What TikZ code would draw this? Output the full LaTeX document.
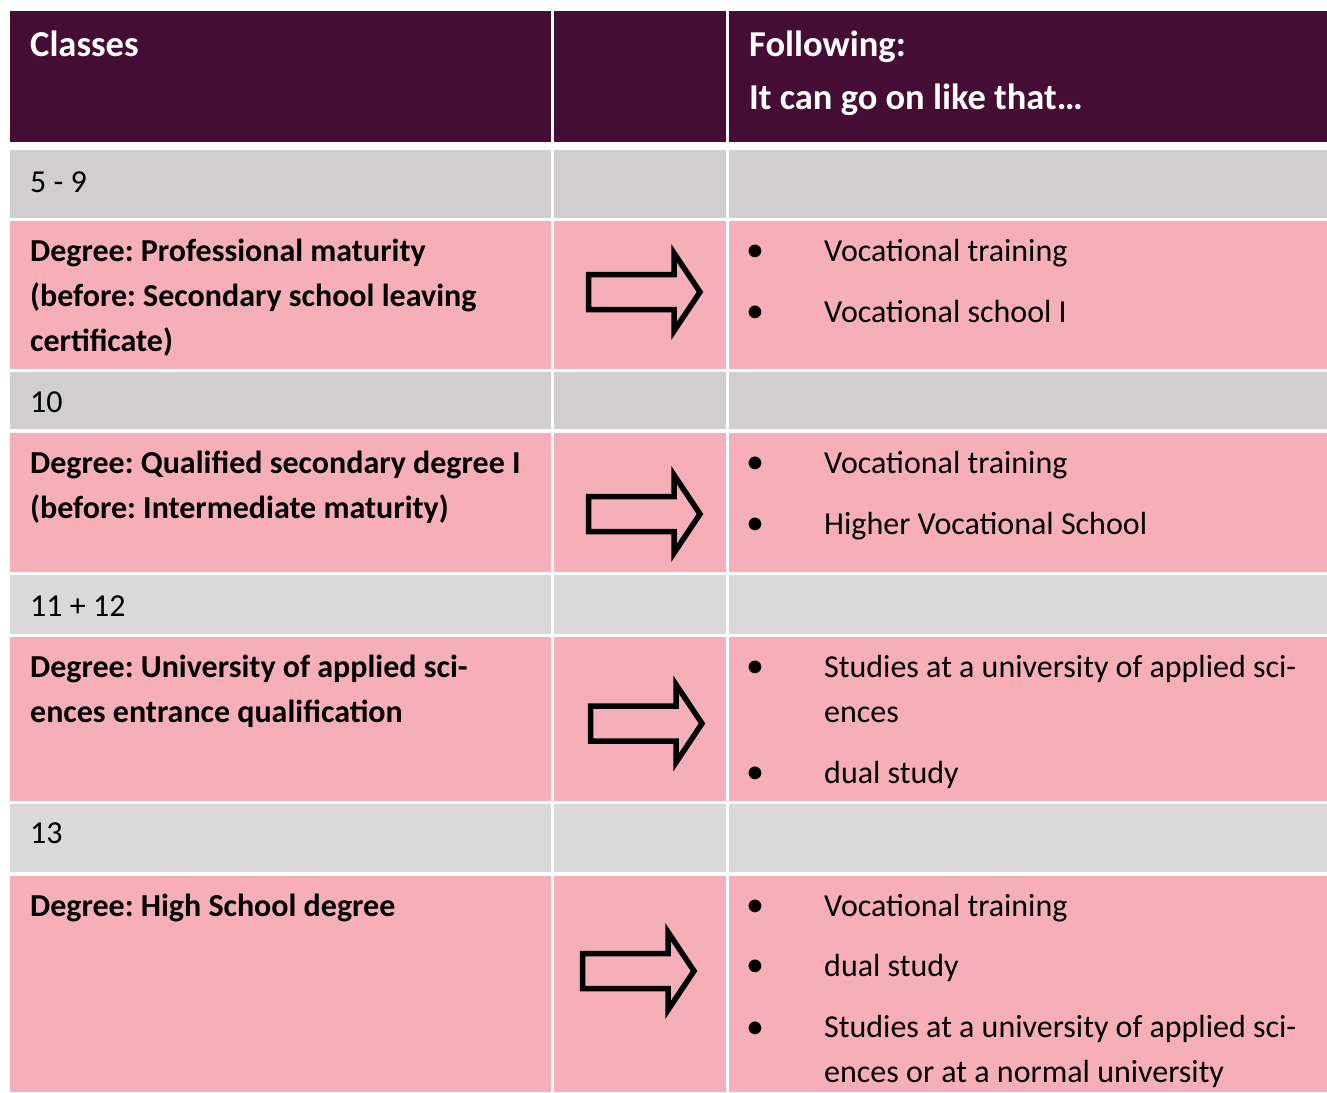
\documentclass[tikz,border=0pt]{standalone}
\usepackage{fontspec}
\setmainfont{Carlito}
\frenchspacing

\definecolor{headpurple}{RGB}{70,13,52}
\definecolor{rowgrayA}{RGB}{208,206,206}
\definecolor{rowgrayB}{RGB}{217,217,217}
\definecolor{rowpink}{RGB}{246,174,185}

% multi-line cells sit on the baseline of their last line
\tikzset{
  cell/.style={inner sep=0pt, anchor=base west, align=left},
  headtext/.style={cell, text=white, font=\fontsize{36.5}{53}\selectfont\bfseries},
  bodytext/.style={cell, font=\fontsize{32}{45}\selectfont},
  degree/.style={cell, font=\fontsize{32}{45}\selectfont\bfseries},
  bulletmark/.style={inner sep=0pt, anchor=base, font=\fontsize{36}{36}\selectfont},
  fatarrow/.pic={
    \draw[line width=5.5pt] (2.5,-17.5) -- (88,-17.5) -- (88,-39) -- (114,0)
      -- (88,39) -- (88,17.5) -- (2.5,17.5) -- cycle;
  }
}

\begin{document}
\begin{tikzpicture}[x=1pt, y=-1pt]
  \useasboundingbox (0,0) rectangle (1327,1092);

  % table rows
  \foreach \top/\bot/\col in {11/142/headpurple, 150/218/rowgrayA, 221/369/rowpink,
      372/429/rowgrayA, 433/572/rowpink, 575/634/rowgrayB, 637/801/rowpink,
      804/872/rowgrayB, 876/1092/rowpink} {
    \fill[\col] (10,\top) rectangle (551,\bot);
    \fill[\col] (554,\top) rectangle (726,\bot);
    \fill[\col] (729,\top) rectangle (1327,\bot);
  }

  % header
  \node[headtext] (classes) at (30,56) {Classes};
  \node[headtext] (follow) at (749,109) {Following:\\It can go on like that…};

  % first column
  \node[bodytext] (c59) at (30,192) {5 - 9};
  \node[degree] (deg1) at (30,351) {Degree: Professional maturity\\(before: Secondary school leaving\\certificate)};
  \node[bodytext] (c10) at (30,412) {10};
  \node[degree] (deg2) at (30,518) {Degree: Qualified secondary degree I\\(before: Intermediate maturity)};
  \node[bodytext] (c1112) at (30,616) {11 + 12};
  \node[degree] (deg3) at (30,722) {Degree: University of applied sci-\\ences entrance qualification};
  \node[bodytext] (c13) at (30,843) {13};
  \node[degree] (deg4) at (30,916) {Degree: High School degree};

  % arrows
  \pic at (586,292) {fatarrow};
  \pic at (586,514) {fatarrow};
  \pic at (588,723.5) {fatarrow};
  \pic at (580,971) {fatarrow};

  % bullets
  \foreach \y in {261,322,473,534,677,783,916,976,1038}
    \node[bulletmark] (b\y) at (755,\y) {•};

  % what follows
  \node[bodytext] (o1a) at (824,261) {Vocational training};
  \node[bodytext] (o1b) at (824,322) {Vocational school I};
  \node[bodytext] (o2a) at (824,473) {Vocational training};
  \node[bodytext] (o2b) at (824,534) {Higher Vocational School};
  \node[bodytext] (o3a) at (824,722) {Studies at a university of applied sci-\\ences};
  \node[bodytext] (o3b) at (824,783) {dual study};
  \node[bodytext] (o4a) at (824,916) {Vocational training};
  \node[bodytext] (o4b) at (824,976) {dual study};
  \node[bodytext] (o4c) at (824,1082) {Studies at a university of applied sci-\\ences or at a normal university};
\end{tikzpicture}
\end{document}
